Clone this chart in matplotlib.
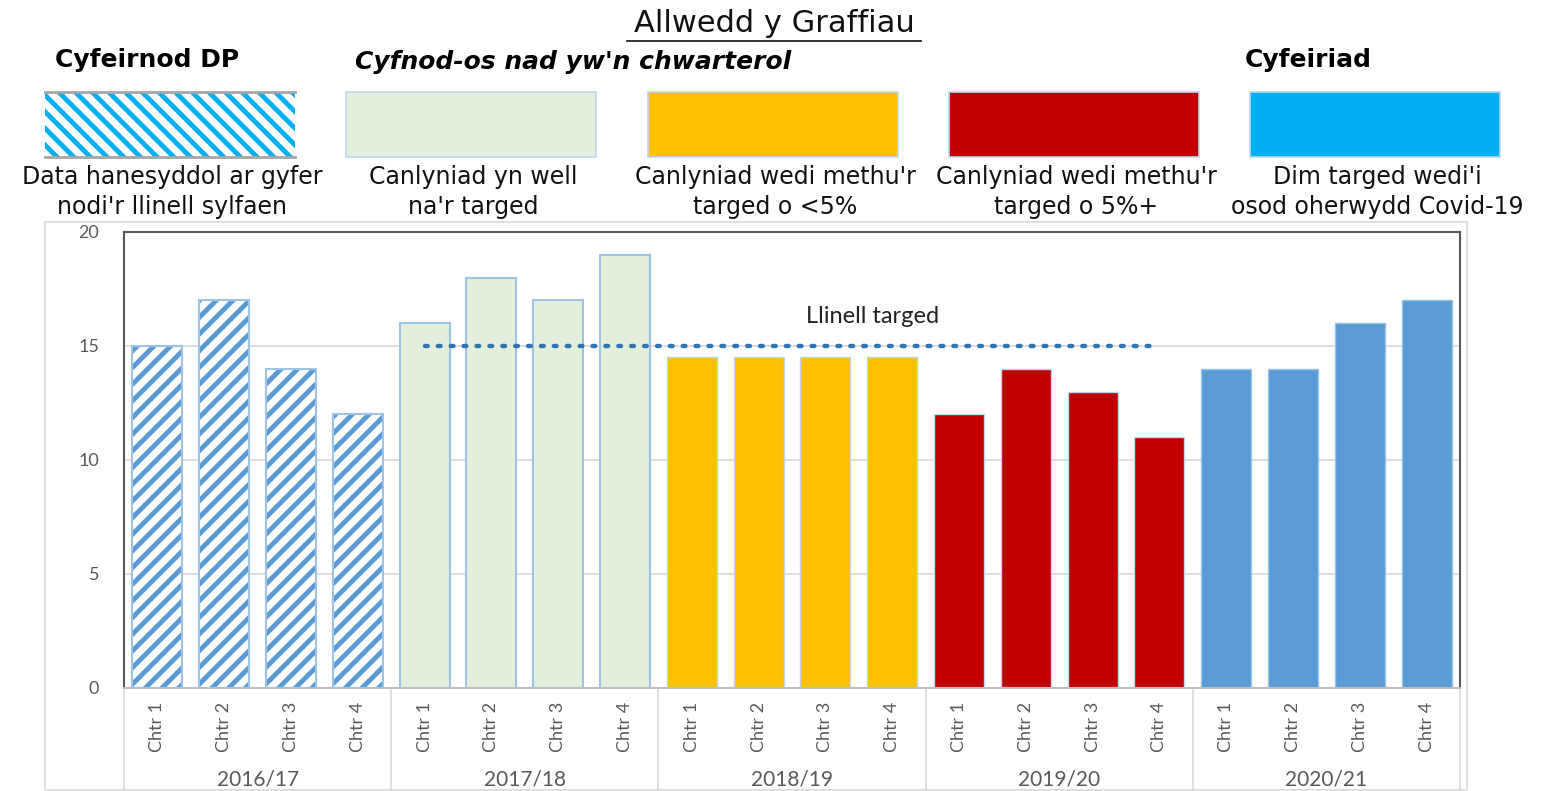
import matplotlib
matplotlib.use('Agg')
import matplotlib.pyplot as plt
from matplotlib.patches import Rectangle
from matplotlib.transforms import blended_transform_factory

plt.rcParams['font.family'] = ['DejaVu Sans']
plt.rcParams['hatch.linewidth'] = 3.5

# --- DATA ---
years = ['2016/17', '2017/18', '2018/19', '2019/20', '2020/21']
quarters = ['Chtr 1', 'Chtr 2', 'Chtr 3', 'Chtr 4']
values_1617 = [15, 17, 14, 12]
values_1718 = [16, 18, 17, 19]
values_1819 = [14.5, 14.5, 14.5, 14.5]
values_1920 = [12, 14, 13, 11]
values_2021 = [14, 14, 16, 17]
target_value = 15
target_from, target_to = 4, 15   # bar index where the dotted target line starts / ends

legend_labels = ["Data hanesyddol ar gyfer\nnodi'r llinell sylfaen",
                 "Canlyniad yn well\nna'r targed",
                 "Canlyniad wedi methu'r\ntarged o <5%",
                 "Canlyniad wedi methu'r\ntarged o 5%+",
                 "Dim targed wedi'i\nosod oherwydd Covid-19"]

# colours per year group
HATCH_BLUE = '#5b9bd5'
colours = ['white', '#e2efda', '#ffc000', '#c00000', '#5b9bd5']
edges = ['#9dc3e6', '#9dc3e6', '#bdd7ee', '#bdd7ee', '#9dc3e6']
CHART_FONT = ['Lato', 'DejaVu Sans']

W, H = 1541, 791
fig = plt.figure(figsize=(W / 100, H / 100), dpi=100)

# overlay in pixel coords for the key and chart frame
ov = fig.add_axes([0, 0, 1, 1])
ov.set_xlim(0, W)
ov.set_ylim(H, 0)
ov.axis('off')

# --- key (Allwedd y Graffiau) ---
ov.text(774, 23, 'Allwedd y Graffiau', fontsize=22, ha='center', va='center', color='#111111')
ov.plot([627, 921], [41, 41], color='#111111', lw=1.2)
ov.text(55, 60, 'Cyfeirnod DP', fontsize=18, fontweight='bold', ha='left', va='center')
ov.text(355, 62, "Cyfnod-os nad yw'n chwarterol", fontsize=18, fontweight='bold',
        style='italic', ha='left', va='center')
ov.text(1245, 60, 'Cyfeiriad', fontsize=18, fontweight='bold', ha='left', va='center')

box_x = [45, 346, 648, 949, 1250]
box_w, box_top, box_h = 250, 92, 65
key_fill = ['white', '#e2efda', '#ffc000', '#c00000', '#00b0f0']
for i, x0 in enumerate(box_x):
    if i == 0:
        ov.add_patch(Rectangle((x0, box_top), box_w, box_h, facecolor='white',
                               edgecolor='#00b0f0', hatch='\\\\', lw=0))
        ov.plot([x0, x0 + box_w], [box_top, box_top], color='#a6a6a6', lw=2)
        ov.plot([x0, x0 + box_w], [box_top + box_h, box_top + box_h], color='#a6a6a6', lw=2)
    else:
        ov.add_patch(Rectangle((x0, box_top), box_w, box_h, facecolor=key_fill[i],
                               edgecolor='#bdd7ee', lw=1.2))
    ov.text(x0 + box_w / 2 + 2, 192, legend_labels[i], fontsize=17, ha='center',
            va='center', linespacing=1.3, color='#111111')

# outer chart frame
ov.add_patch(Rectangle((45, 222), 1422, 568, facecolor='none', edgecolor='#d9d9d9', lw=1.2))

# --- main chart ---
left, right, top, bottom = 124, 1460, 232, 688
ax = fig.add_axes([left / W, (H - bottom) / H, (right - left) / W, (bottom - top) / H])

groups = [values_1617, values_1718, values_1819, values_1920, values_2021]
idx = 0
for g, vals in enumerate(groups):
    xs = list(range(idx, idx + len(vals)))
    if g == 0:
        ax.bar(xs, vals, width=0.75, facecolor='white', edgecolor=HATCH_BLUE,
               hatch='//', lw=0, zorder=2)
        ax.bar(xs, vals, width=0.75, facecolor='none', edgecolor=edges[g], lw=1.5, zorder=3)
    else:
        ax.bar(xs, vals, width=0.75, color=colours[g], edgecolor=edges[g],
               lw=1.5 if g == 1 else 1.0, zorder=2)
    idx += len(vals)
n = idx

# target line
tx = list(range(target_from, target_to + 1))
ax.plot(tx, [target_value] * len(tx), linestyle=(0, (0.6, 2.3)), color='#2e75b6',
        lw=3.2, dash_capstyle='round', zorder=4)
ax.text((target_from + target_to) / 2 + 1.2, 16.3, 'Llinell targed', fontsize=17,
        ha='center', va='center', color='#222222', family=CHART_FONT)

ax.set_xlim(-0.5, n - 0.5)
ax.set_ylim(0, 20)
ax.set_yticks([0, 5, 10, 15, 20])
ax.tick_params(axis='y', length=0, pad=18, labelsize=13, labelcolor='#595959')
for lab in ax.get_yticklabels():
    lab.set_family(CHART_FONT)
ax.set_xticks([])
ax.grid(axis='y', color='#d9d9d9', lw=1.2, zorder=0)
ax.set_axisbelow(True)
for s in ['left', 'top', 'right']:
    ax.spines[s].set_color('#595959')
    ax.spines[s].set_linewidth(1.5)
ax.spines['bottom'].set_color('#bfbfbf')
ax.spines['bottom'].set_linewidth(1.5)

# category axis labels
tr = blended_transform_factory(ax.transData, ax.transAxes)
for i in range(n):
    ax.text(i, -0.03, quarters[i % 4], rotation=90, fontsize=13, ha='center',
            va='top', color='#595959', transform=tr, family=CHART_FONT)
for g, yr in enumerate(years):
    ax.text(g * 4 + 1.5, -0.2, yr, fontsize=15, ha='center', va='center',
            color='#595959', transform=tr, family=CHART_FONT)
for b in range(len(years) + 1):
    ax.plot([b * 4 - 0.5, b * 4 - 0.5], [0, -0.225], color='#d9d9d9', lw=1.2,
            transform=tr, clip_on=False)

fig.savefig('out.png', dpi=100)
